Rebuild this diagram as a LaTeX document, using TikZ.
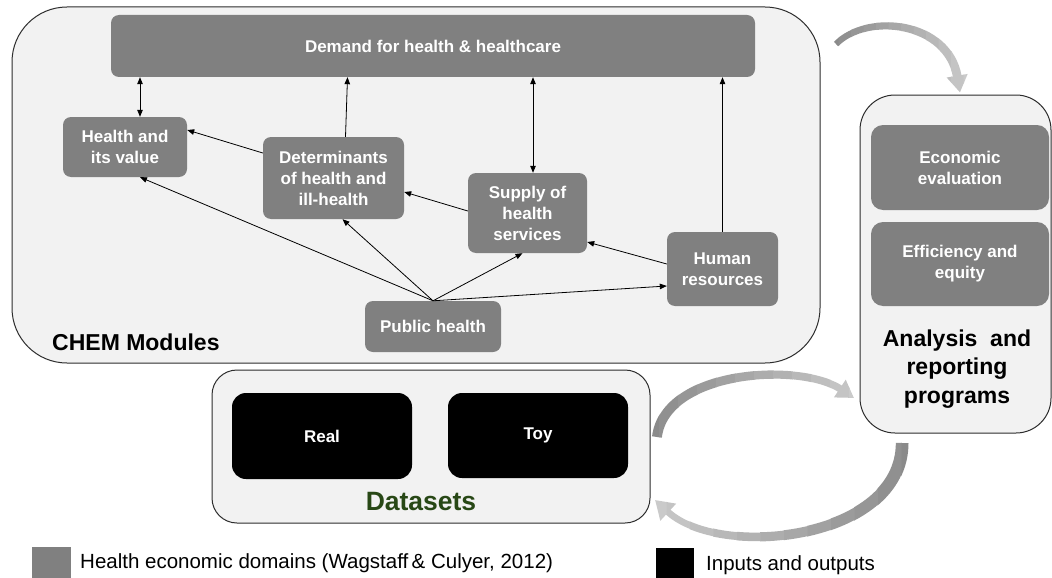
\documentclass[tikz,border=0pt]{standalone}
\usepackage{fontspec}
\setmainfont{Liberation Sans}
\usetikzlibrary{arrows.meta,calc}
\definecolor{boxgray}{RGB}{128,128,128}
\definecolor{panel}{RGB}{242,242,242}
\definecolor{edge}{RGB}{45,45,45}
\definecolor{dsgreen}{RGB}{40,72,22}
\definecolor{gDark}{RGB}{138,138,138}
\definecolor{gLight}{RGB}{202,202,202}
\tikzset{
  dom/.style={fill=boxgray, rounded corners=8pt, text=white, align=center, inner sep=0pt,
    font=\fontsize{17}{21}\selectfont\bfseries},
  iobox/.style={fill=black, rounded corners=14pt, text=white, align=center, inner sep=0pt,
    font=\fontsize{17}{21}\selectfont\bfseries},
  panelbox/.style={fill=panel, draw=edge, line width=1pt, inner sep=0pt},
  link/.style={draw=black, line width=0.8pt, -{Triangle[length=7pt,width=5.5pt]}},
  dlink/.style={draw=black, line width=0.8pt, {Triangle[length=7pt,width=5.5pt]}-{Triangle[length=7pt,width=5.5pt]}},
  bigtipA/.style={-{Triangle[length=17pt,width=20pt]}},
  bigtipB/.style={-{Triangle[length=18pt,width=22pt]}},
}
\begin{document}
\begin{tikzpicture}[x=1pt,y=-1pt]
\useasboundingbox (0,0) rectangle (1052,578);
\fill[white] (0,0) rectangle (1052,578);

% panels
\node[panelbox, rounded corners=55pt, minimum width=808pt, minimum height=356pt] (chem) at (416,185) {};
\node[panelbox, rounded corners=35pt, minimum width=191pt, minimum height=338pt] (anal) at (955.5,264) {};
\node[panelbox, rounded corners=25pt, minimum width=438pt, minimum height=153pt] (ds) at (431,446.5) {};

% CHEM module boxes
\node[dom, minimum width=644pt, minimum height=62pt] (dem) at (433,46) {Demand for health \& healthcare};
\node[dom, minimum width=124pt, minimum height=60pt] (hv) at (125,147) {Health and\\its value};
\node[dom, minimum width=141pt, minimum height=82pt] (det) at (333.5,178) {Determinants\\of health and\\ill-health};
\node[dom, minimum width=119pt, minimum height=80pt] (sup) at (527.5,213) {Supply of\\health\\services};
\node[dom, minimum width=111pt, minimum height=74pt] (hr) at (722.5,269) {Human\\resources};
\node[dom, minimum width=136pt, minimum height=51pt] (ph) at (433,326.5) {Public health};
\node[anchor=west, inner sep=0pt, font=\fontsize{23}{27}\selectfont\bfseries] (chemlbl) at (52,342) {CHEM Modules};

% analysis boxes
\node[dom, rounded corners=12pt, minimum width=178pt, minimum height=85pt] (eco) at (960,167.5) {Economic\\evaluation};
\node[dom, rounded corners=12pt, minimum width=178pt, minimum height=84pt] (eff) at (960,264) {Efficiency and\\equity};
\node[align=center, inner sep=0pt, font=\fontsize{23}{28.5}\selectfont\bfseries] (anlbl) at (957,369) {Analysis\ \ and\\reporting\\programs};

% datasets
\node[iobox, minimum width=180pt, minimum height=86pt] (real) at (322,436) {Real};
\node[iobox, minimum width=180pt, minimum height=85pt] (toy) at (538,435.5) {Toy};
\node[inner sep=0pt, text=dsgreen, font=\fontsize{26.5}{30}\selectfont\bfseries] (dslbl) at (421,502) {Datasets};

% links inside CHEM
\draw[dlink] ([xshift=15pt]hv.north) -- ([xshift=15pt]hv.north |- dem.south);
\draw[link] ([xshift=12pt]det.north) -- ([xshift=14pt]det.north |- dem.south);
\draw[link] ([yshift=25pt]det.west) -- ([yshift=17pt]hv.east);
\draw[link] ([yshift=2pt]sup.west) -- ([yshift=-14pt]det.east);
\draw[dlink] ([xshift=5.5pt]sup.north) -- ([xshift=5.5pt]sup.north |- dem.south);
\draw[link] ([yshift=5pt]hr.west) -- ([yshift=-29pt]sup.east);
\draw[link] (hr.north) -- (hr.north |- dem.south);
\draw[link] (ph.north) -- ([xshift=15pt]hv.south);
\draw[link] (ph.north) -- ([xshift=9pt]det.south);
\draw[link] (ph.north) -- ([xshift=-5pt]sup.south);
\draw[link] (ph.north) -- ([yshift=-17pt]hr.west);

% big gray curved arrows (sliced for a gradient and taper)
\coordinate (a1s) at (836,44);
\coordinate (a1e) at ([xshift=4.5pt,yshift=2pt]anal.north);
\coordinate (a2s) at (657,437);
\coordinate (a2e) at (854,398);
\coordinate (a3s) at (902,443);
\coordinate (a3e) at (655,500);
\def\pathA{(a1s) .. controls (868,12) and (948,22) .. (a1e)}
\def\pathB{(a2s) .. controls (665,370) and (800,362) .. (a2e)}
\def\pathC{(a3s) .. controls (902,540) and (720,560) .. (a3e)}
\foreach \i in {0,...,11}{
  \pgfmathtruncatemacro\p{100*\i/11}
  \pgfmathsetmacro\w{6+3*\i/11}
  \begin{scope}
    \clip (826+\i*12.5,0) rectangle (826+\i*12.5+13,115);
    \draw[bigtipA, draw=gLight!\p!gDark, line width=\w pt] \pathA;
  \end{scope}
}
\foreach \i in {0,...,11}{
  \pgfmathtruncatemacro\p{100*\i/11}
  \pgfmathsetmacro\w{10-3*\i/11}
  \begin{scope}
    \clip (640+\i*19,340) rectangle (640+\i*19+19.5,460);
    \draw[bigtipA, draw=gLight!\p!gDark, line width=\w pt] \pathB;
  \end{scope}
}
\foreach \i in {0,...,11}{
  \pgfmathtruncatemacro\p{100*\i/11}
  \pgfmathsetmacro\w{13-7*\i/11}
  \begin{scope}
    \clip (925-\i*23.5,436) rectangle (925-\i*23.5-24,578);
    \draw[bigtipB, draw=gLight!\p!gDark, line width=\w pt] \pathC;
  \end{scope}
}

% legend
\node[fill=boxgray, inner sep=0pt, minimum width=39pt, minimum height=31pt, anchor=north west] (lg1) at (32,547) {};
\node[anchor=west, inner sep=0pt, font=\fontsize{20.5}{24}\selectfont] (lt1) at (80,563) {Health economic domains (Wagstaff\,\& Culyer, 2012)};
\node[fill=black, inner sep=0pt, minimum width=38pt, minimum height=30pt, anchor=north west] (lg2) at (656,548) {};
\node[anchor=west, inner sep=0pt, font=\fontsize{20.5}{24}\selectfont] (lt2) at (706,565) {Inputs and outputs};
\end{tikzpicture}
\end{document}
